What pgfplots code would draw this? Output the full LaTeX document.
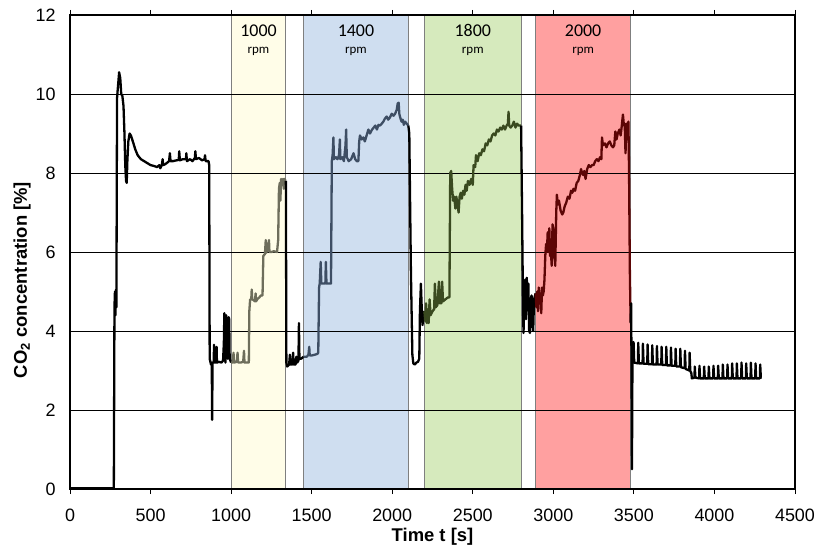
\documentclass[border=0pt]{standalone}
\usepackage{pgfplots}
\pgfplotsset{compat=1.18}
\usepackage{fontspec}
\setmainfont{Liberation Sans}
\newfontfamily\calibri{Carlito}
\usetikzlibrary{calc}
\definecolor{bandY}{HTML}{FFFDE8}
\definecolor{bandB}{HTML}{CFDEF0}
\definecolor{bandG}{HTML}{D6EABD}
\definecolor{bandR}{HTML}{FFA0A0}
\definecolor{lineY}{HTML}{6E6E5C}
\definecolor{lineB}{HTML}{3E4E64}
\definecolor{lineG}{HTML}{3A4A20}
\definecolor{lineR}{HTML}{5C0505}
\definecolor{bandedge}{HTML}{7F7F7F}
\begin{document}
\begin{tikzpicture}
\begin{axis}[
  set layers,
  scale only axis,
  width=725bp, height=474bp,
  xmin=0, xmax=4500, ymin=0, ymax=12,
  xtick={0,500,...,4500}, ytick={0,2,...,12},
  ymajorgrids, major grid style={black, line width=0.7bp},
  axis line style={black, line width=1.3bp},
  tick align=outside, major tick length=5bp,
  xtick style={black, line width=0.8bp},
  ytick style={draw=none},
  /pgf/number format/assume math mode=true,
  /pgf/number format/1000 sep={},
  tick label style={font=\fontsize{18}{21}\selectfont},
  xticklabel style={yshift=-11bp},
  yticklabel style={xshift=-6bp},
  label style={font=\fontsize{18.5}{21}\selectfont\bfseries},
  xlabel={Time t [s]},
  ylabel={CO\textsubscript{2} concentration [\%]},
  xlabel style={at={(axis description cs:0.5,-0.101)}, anchor=center},
  ylabel style={at={(axis description cs:-0.066,0.441)}, anchor=center},
  line join=round,
]
% bands
\addplot[on layer=axis background, fill=bandY, draw=bandedge, line width=0.8bp] coordinates {(1000,0) (1000,12) (1340,12) (1340,0)} -- cycle;
\addplot[on layer=axis background, fill=bandB, draw=bandedge, line width=0.8bp] coordinates {(1450,0) (1450,12) (2100,12) (2100,0)} -- cycle;
\addplot[on layer=axis background, fill=bandG, draw=bandedge, line width=0.8bp] coordinates {(2200,0) (2200,12) (2800,12) (2800,0)} -- cycle;
\addplot[on layer=axis background, fill=bandR, draw=bandedge, line width=0.8bp] coordinates {(2890,0) (2890,12) (3480,12) (3480,0)} -- cycle;

% black segment A
\addplot[black, line width=2.3bp] coordinates {
(0,0.02) (272,0.02) (276,4.6) (279,5.0) (282,4.4) (285,5.05) (288,4.6) (292,9.9) (300,10.3) (305,10.55) (312,10.4) (318,10.0) (325,9.95) (332,9.7) (338,9.0) (343,8.2) (348,7.8) (352,7.75) (356,8.3) (362,8.8) (370,9.0) (378,8.95) (390,8.8) (405,8.6) (420,8.45) (440,8.35) (460,8.3) (480,8.25) (500,8.2) (520,8.18) (540,8.15) (555,8.2) (560,8.12) (570,8.2) (575,8.35) (578,8.2) (590,8.22) (600,8.25) (615,8.3) (620,8.5) (624,8.3) (640,8.3) (660,8.32) (675,8.33) (678,8.55) (682,8.32) (700,8.35) (720,8.35) (722,8.5) (726,8.3) (745,8.35) (760,8.3) (775,8.38) (778,8.55) (782,8.35) (800,8.38) (820,8.32) (835,8.35) (838,8.45) (842,8.3) (860,8.3) (864,8.2) (867,3.3) (875,3.15) (880,3.2) (882,1.75) (885,3.2) (892,3.2) (894,3.65) (896,3.2) (908,3.2) (910,3.6) (912,3.2) (925,3.22) (940,3.2) (950,3.25) (955,3.7) (958,4.45) (961,3.4) (965,3.2) (970,4.4) (973,3.6) (976,4.2) (979,3.3) (985,4.35) (988,4.3) (991,3.3) (1000,3.2)
};
% yellow band segment
\addplot[lineY, line width=2.3bp] coordinates {
(1000,3.2) (1010,3.2) (1015,3.45) (1018,3.2) (1035,3.22) (1040,3.45) (1043,3.2) (1060,3.2) (1075,3.22) (1080,3.5) (1083,3.2) (1110,3.2) (1113,4.5) (1118,4.8) (1125,4.8) (1128,5.05) (1131,4.8) (1140,4.78) (1148,4.75) (1152,4.95) (1155,4.75) (1165,4.82) (1175,4.85) (1185,4.9) (1195,4.9) (1200,5.9) (1210,5.95) (1215,6.3) (1218,5.98) (1225,6.05) (1235,6.3) (1238,6.0) (1250,6.0) (1265,6.02) (1285,6.0) (1292,6.3) (1297,7.6) (1302,7.75) (1306,7.3) (1310,7.85) (1316,7.7) (1322,7.85) (1327,7.6) (1332,7.85) (1338,7.8) (1340,7.8)
};
% black segment B
\addplot[black, line width=2.3bp] coordinates {
(1340,7.8) (1343,3.2) (1348,3.1) (1360,3.15) (1365,3.4) (1368,3.15) (1380,3.15) (1385,3.45) (1388,3.15) (1400,3.15) (1405,3.35) (1410,3.2) (1418,3.25) (1421,4.2) (1424,3.3) (1435,3.3) (1450,3.35)
};
% blue band segment
\addplot[lineB, line width=2.3bp] coordinates {
(1450,3.35) (1470,3.35) (1480,3.4) (1485,3.6) (1488,3.38) (1500,3.38) (1520,3.4) (1535,3.42) (1541,3.45) (1546,5.1) (1550,5.2) (1556,5.75) (1560,5.2) (1570,5.2) (1585,5.2) (1588,5.75) (1592,5.2) (1605,5.2) (1620,5.2) (1625,8.3) (1630,8.45) (1635,8.9) (1638,8.35) (1650,8.4) (1660,8.35) (1670,8.45) (1675,8.85) (1678,8.35) (1690,8.4) (1700,8.3) (1710,8.7) (1714,9.1) (1718,8.4) (1730,8.3) (1745,8.35) (1760,8.5) (1770,8.35) (1780,8.3) (1790,8.3) (1795,8.8) (1800,8.95) (1810,8.85) (1821,8.9) (1830,8.8) (1841,8.95) (1852,9.1) (1862,9.0) (1875,9.1) (1885,9.15) (1895,9.2) (1905,9.1) (1915,9.22) (1924,9.2) (1935,9.25) (1945,9.3) (1955,9.38) (1966,9.43) (1975,9.35) (1985,9.4) (1997,9.5) (2008,9.45) (2018,9.5) (2028,9.6) (2034,9.76) (2040,9.78) (2044,9.5) (2050,9.4) (2058,9.3) (2065,9.35) (2072,9.22) (2080,9.3) (2090,9.25) (2100,9.2)
};
% black segment C
\addplot[black, line width=2.3bp] coordinates {
(2100,9.2) (2106,9.0) (2116,5.5) (2125,3.4) (2131,3.18) (2140,3.15) (2150,3.2) (2160,3.22) (2168,3.3) (2172,4.5) (2178,5.2) (2183,4.6) (2188,4.15) (2193,4.4) (2200,4.5)
};
% green band segment
\addplot[lineG, line width=2.3bp] coordinates {
(2200,4.5) (2205,4.25) (2210,4.7) (2215,4.2) (2222,4.55) (2226,4.2) (2232,4.8) (2238,4.4) (2250,4.5) (2260,4.55) (2265,5.2) (2270,4.6) (2280,4.65) (2290,5.25) (2295,4.7) (2305,4.7) (2310,5.25) (2315,4.75) (2330,4.8) (2345,4.85) (2355,4.85) (2360,8.0) (2366,8.05) (2372,7.6) (2378,7.3) (2385,7.4) (2392,7.1) (2398,7.4) (2405,7.2) (2412,7.0) (2418,7.4) (2425,7.5) (2432,7.35) (2440,7.55) (2448,7.45) (2455,7.7) (2462,7.55) (2470,7.8) (2480,7.7) (2490,7.85) (2500,7.7) (2505,8.2) (2515,8.15) (2520,8.45) (2530,8.3) (2540,8.5) (2550,8.45) (2560,8.6) (2570,8.55) (2580,8.75) (2590,8.7) (2600,8.85) (2610,8.8) (2620,8.95) (2630,9.0) (2640,8.95) (2650,9.1) (2660,9.05) (2670,9.15) (2680,9.1) (2690,9.2) (2700,9.1) (2710,9.2) (2718,9.25) (2722,9.55) (2726,9.2) (2735,9.15) (2745,9.2) (2755,9.3) (2765,9.15) (2775,9.25) (2785,9.2) (2795,9.2) (2800,9.2)
};
% black segment D
\addplot[black, line width=2.3bp] coordinates {
(2800,9.2) (2806,7.0) (2812,4.5) (2815,3.95) (2820,4.9) (2825,5.3) (2830,4.3) (2835,5.35) (2840,4.8) (2845,5.2) (2850,4.0) (2855,3.95) (2860,4.8) (2865,4.9) (2870,4.2) (2875,4.0) (2880,4.8) (2890,4.95)
};
% red band segment
\addplot[lineR, line width=2.3bp] coordinates {
(2890,4.95) (2895,4.6) (2900,5.0) (2905,4.5) (2910,5.1) (2915,4.9) (2920,4.95) (2925,4.45) (2930,5.1) (2935,4.9) (2940,5.0) (2945,5.3) (2950,5.9) (2955,6.2) (2960,6.0) (2965,6.5) (2970,6.0) (2975,6.6) (2980,5.9) (2985,6.0) (2990,5.65) (2995,6.7) (3000,6.6) (3005,6.0) (3012,5.65) (3018,7.0) (3022,7.45) (3028,7.2) (3035,7.3) (3045,7.05) (3055,6.95) (3062,7.0) (3070,7.15) (3080,7.25) (3090,7.4) (3100,7.35) (3110,7.55) (3118,7.5) (3125,7.6) (3135,7.55) (3145,7.75) (3155,7.8) (3165,7.95) (3172,8.1) (3178,8.0) (3185,7.95) (3192,8.05) (3200,7.85) (3210,8.1) (3220,8.2) (3230,8.15) (3240,8.2) (3250,8.2) (3260,8.3) (3270,8.35) (3280,8.3) (3290,8.4) (3298,8.35) (3302,8.9) (3308,8.7) (3320,8.75) (3330,8.65) (3340,8.75) (3350,8.8) (3360,8.7) (3370,8.65) (3378,8.7) (3385,9.05) (3392,8.85) (3400,9.0) (3410,9.1) (3418,8.95) (3425,9.2) (3432,9.48) (3438,9.2) (3443,9.25) (3448,8.5) (3452,9.0) (3456,9.25) (3462,9.2) (3466,9.3) (3470,8.0) (3475,5.5) (3480,4.2)
};
% black segment E (tail)
\addplot[black, line width=2.3bp] coordinates {
(3480,4.2) (3483,4.7) (3485,3.3) (3488,0.5) (3491,3.2) (3496,3.2)
(3498,3.72) (3502,3.2) (3525,3.18) (3527,3.7) (3531,3.18) (3554,3.18) (3556,3.68) (3560,3.17) (3583,3.17) (3585,3.66) (3589,3.16) (3612,3.16) (3614,3.64) (3618,3.15) (3641,3.15) (3643,3.62) (3647,3.15) (3670,3.15) (3672,3.6) (3676,3.14) (3699,3.14) (3701,3.6) (3705,3.13) (3728,3.13) (3730,3.58) (3734,3.12) (3757,3.12) (3759,3.55) (3763,3.1) (3786,3.1) (3788,3.55) (3792,3.08) (3815,3.06) (3817,3.5) (3821,3.04) (3844,3.0) (3846,3.45) (3850,2.98) (3856,2.95) (3860,2.8)
(3876,2.82) (3878,3.1) (3882,2.82) (3905,2.8) (3907,3.12) (3911,2.8) (3934,2.8) (3936,3.1) (3940,2.8) (3963,2.8) (3965,3.1) (3969,2.8) (3992,2.8) (3994,3.12) (3998,2.8) (4021,2.8) (4023,3.12) (4027,2.8) (4050,2.8) (4052,3.15) (4056,2.8) (4079,2.8) (4081,3.15) (4085,2.8) (4108,2.8) (4110,3.18) (4114,2.8) (4137,2.8) (4139,3.18) (4143,2.8) (4166,2.8) (4168,3.2) (4172,2.8) (4195,2.8) (4197,3.18) (4201,2.8) (4224,2.8) (4226,3.2) (4230,2.8) (4253,2.8) (4255,3.18) (4259,2.8) (4282,2.8) (4284,3.15) (4288,2.82) (4293,2.82)
};

\node[font=\calibri\fontsize{18}{20}\selectfont] at (axis cs:1170,11.6) {1000};
\node[font=\calibri\fontsize{13}{15}\selectfont] at (axis cs:1170,11.08) {rpm};
\node[font=\calibri\fontsize{18}{20}\selectfont] at (axis cs:1775,11.6) {1400};
\node[font=\calibri\fontsize{13}{15}\selectfont] at (axis cs:1775,11.08) {rpm};
\node[font=\calibri\fontsize{18}{20}\selectfont] at (axis cs:2500,11.6) {1800};
\node[font=\calibri\fontsize{13}{15}\selectfont] at (axis cs:2500,11.08) {rpm};
\node[font=\calibri\fontsize{18}{20}\selectfont] at (axis cs:3185,11.6) {2000};
\node[font=\calibri\fontsize{13}{15}\selectfont] at (axis cs:3185,11.08) {rpm};

\coordinate (sw) at (rel axis cs:0,0);
\coordinate (ne) at (rel axis cs:1,1);
\end{axis}
\pgfresetboundingbox
\path ($(sw)+(-70bp,-59bp)$) rectangle ($(ne)+(23bp,15bp)$);
\end{tikzpicture}
\end{document}
